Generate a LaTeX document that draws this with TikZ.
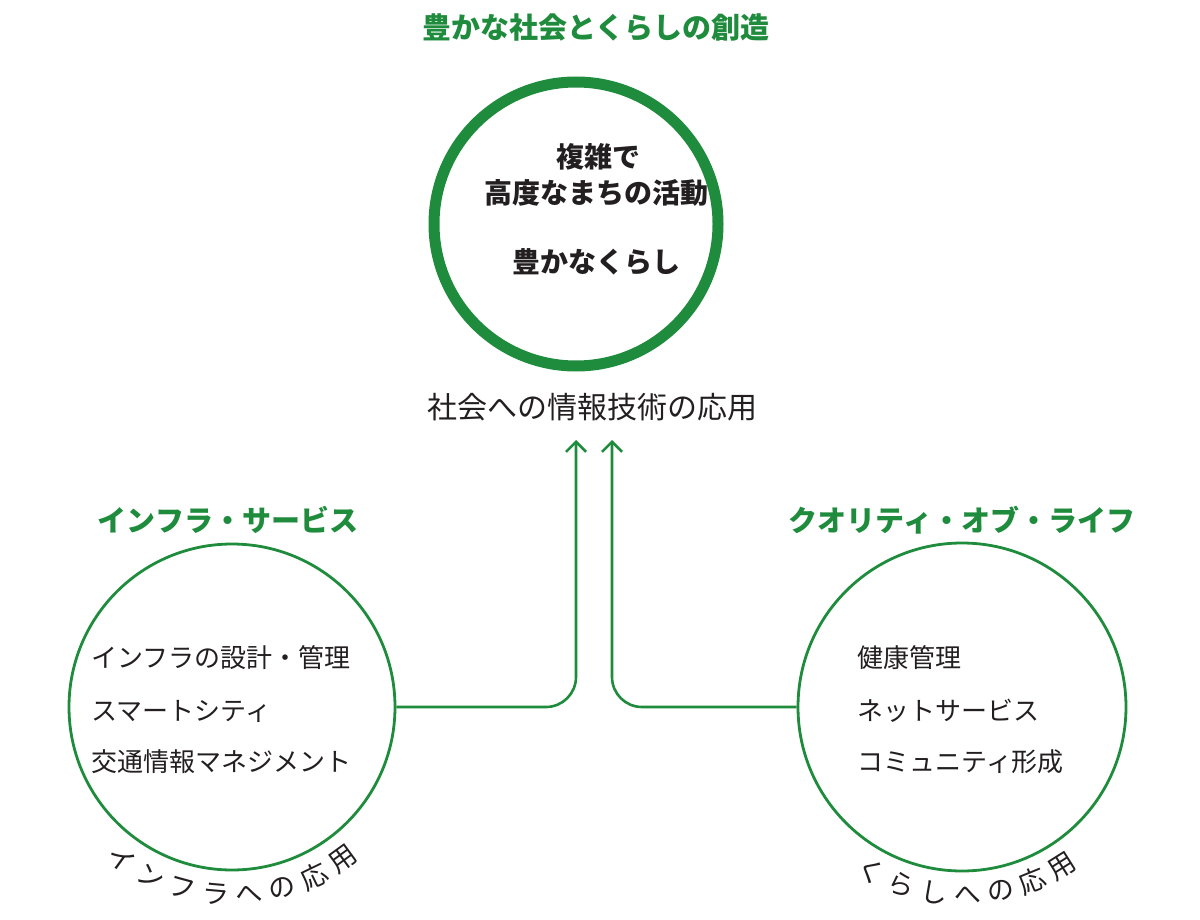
\documentclass[tikz,border=0pt]{standalone}
\usepackage{fontspec}
\setmainfont{Noto Sans CJK JP}
\usetikzlibrary{arrows.meta,calc}
\definecolor{grn}{HTML}{1E8C3C}
\definecolor{ink}{HTML}{231F20}
\begin{document}
\begin{tikzpicture}[x=1pt,y=-1pt,
  gtitle/.style={text=grn,font=\fontsize{29}{32}\selectfont\bfseries},
  inner/.style={text=ink,font=\fontsize{28}{30}\selectfont\bfseries},
  item/.style={text=ink,font=\fontsize{26}{28}\selectfont,anchor=west},
  arcch/.style={text=ink,font=\fontsize{27}{28}\selectfont},
  conn/.style={draw=grn,line width=2.6pt,rounded corners=30pt,-{Straight Barb[length=10pt,width=20pt,line width=2.6pt]}}]
\useasboundingbox (0,0) rectangle (1200,920);
\node[circle,draw=grn,line width=11pt,minimum size=284pt,inner sep=0] (top) at (576,224) {};
\node[circle,draw=grn,line width=2.8pt,minimum size=326pt,inner sep=0] (L) at (232,707) {};
\node[circle,draw=grn,line width=2.8pt,minimum size=328pt,inner sep=0] (R) at (962,707) {};
\node[gtitle] (t0) at (596,28) {豊かな社会とくらしの創造};
\node[inner] (t1) at (598,157) {複雑で};
\node[inner] (t2) at (596,193) {高度なまちの活動};
\node[inner] (t3) at (596,262) {豊かなくらし};
\node[text=ink,font=\fontsize{30}{32}\selectfont] (app) at (592,407) {社会への情報技術の応用};
\node[gtitle] (lt) at (228,520) {インフラ・サービス};
\node[gtitle] (rt) at (962,520) {クオリティ・オブ・ライフ};
\node[item] (l1) at (88,658) {インフラの設計・管理};
\node[item] (l2) at (88,711) {スマートシティ};
\node[item] (l3) at (88,762) {交通情報マネジメント};
\node[item] (r1) at (854,658) {健康管理};
\node[item] (r2) at (854,711) {ネットサービス};
\node[item] (r3) at (854,762) {コミュニティ形成};
\coordinate (a1) at (576,440);
\coordinate (a2) at (612,440);
\draw[conn] (L.east) -- (576,707) -- (a1);
\draw[conn] (R.west) -- (612,707) -- (a2);
\foreach \c [count=\i] in {イ,ン,フ,ラ,へ,の,応,用}{
  \pgfmathsetmacro\ang{126-(\i-1)*10.3}
  \node[arcch,rotate=90-\ang] (lc\i) at ($(232,707)+(\ang:188)$) {\c};
}
\foreach \c [count=\i] in {く,ら,し,へ,の,応,用}{
  \pgfmathsetmacro\ang{119-(\i-1)*10.2}
  \node[arcch,rotate=90-\ang] (rc\i) at ($(962,707)+(\ang:188)$) {\c};
}
\end{tikzpicture}
\end{document}
